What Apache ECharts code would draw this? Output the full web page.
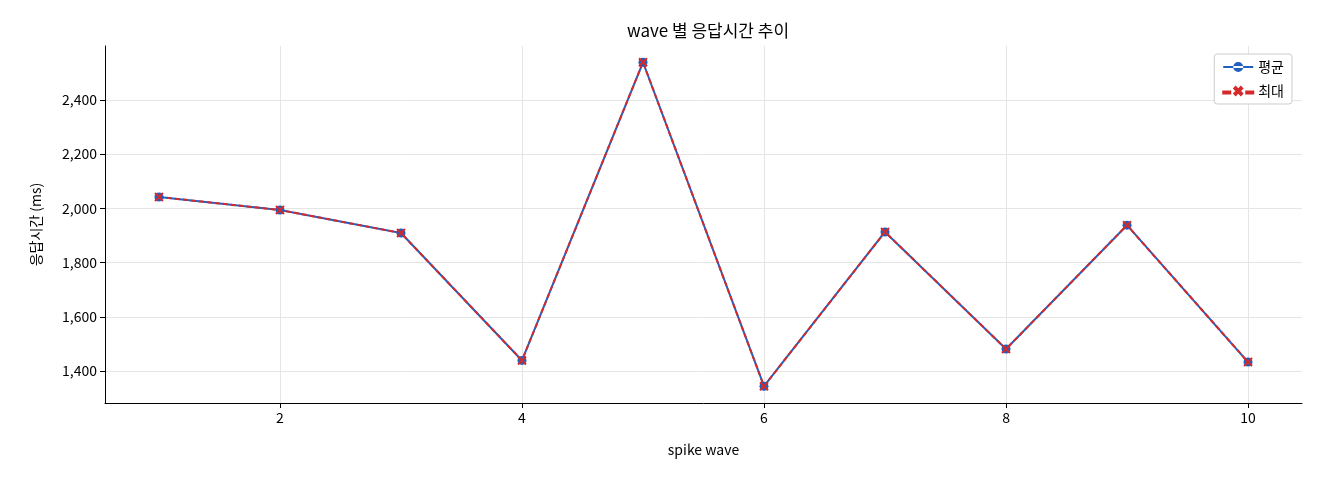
<!DOCTYPE html>
<html><head><meta charset="utf-8">
<script src="https://cdn.jsdelivr.net/npm/echarts@6/dist/echarts.min.js"></script>
<style>html,body{margin:0;padding:0;background:#fff}#c{width:1320px;height:480px}</style>
</head><body><div id="c"></div>
<script>
const waves = [1,2,3,4,5,6,7,8,9,10];
const avgVals = [2042,1994,1909,1439,2539,1344,1913,1481,1938,1433];
const maxVals = [2042,1994,1909,1439,2539,1344,1913,1481,1938,1433];
const yTicks = [1400,1600,1800,2000,2200,2400];
const xTicks = [2,4,6,8,10];
const F = '"Noto Sans CJK KR", "DejaVu Sans", sans-serif';
const chart = echarts.init(document.getElementById('c'));
chart.setOption({
  animation:false,
  textStyle:{fontFamily:F},
  title:{text:'wave 별 응답시간 추이',left:703,top:17,textAlign:'center',textStyle:{fontSize:17,fontWeight:'normal',color:'#000',fontFamily:F}},
  grid:{left:105,right:18,top:46,bottom:77},
  legend:{right:28,top:54,orient:'vertical',itemGap:10,backgroundColor:'#fff',borderColor:'#ccc',borderWidth:1,borderRadius:3,padding:[6,8],itemWidth:30,itemHeight:10,textStyle:{fontSize:14,color:'#000'},
    data:[{name:'평균',icon:'path://M0,4h30v2h-30z M15,0a5,5 0 1,0 0.01,0z'},
          {name:'최대',icon:'path://M0,4h7v2h-7z M23,4h7v2h-7z M11,1l1.4,-1.4l2.6,2.6l2.6,-2.6l1.4,1.4l-2.6,2.6l2.6,2.6l-1.4,1.4l-2.6,-2.6l-2.6,2.6l-1.4,-1.4l2.6,-2.6z'}]},
  xAxis:{type:'value',min:0.554,max:10.446,name:'spike wave',nameLocation:'middle',nameGap:40,nameTextStyle:{fontSize:14,color:'#000'},
    axisLine:{onZero:false,lineStyle:{color:'#000'}},axisTick:{show:true,length:5,customValues:xTicks,lineStyle:{color:'#000'}},
    axisLabel:{fontSize:14,color:'#000',customValues:xTicks},
    splitLine:{show:true,lineStyle:{color:'#e5e5e5'}}},
  yAxis:{type:'value',min:1282,max:2599,name:'응답시간 (ms)',nameLocation:'middle',nameGap:62,nameTextStyle:{fontSize:14,color:'#000'},
    axisLine:{show:true,lineStyle:{color:'#000'}},axisTick:{show:true,length:5,customValues:yTicks,lineStyle:{color:'#000'}},
    axisLabel:{fontSize:14,color:'#000',customValues:yTicks},
    splitLine:{show:true,lineStyle:{color:'#e5e5e5'}}},
  series:[
    {name:'평균',type:'line',data:waves.map((w,i)=>[w,avgVals[i]]),color:'#1f60c0',symbol:'circle',symbolSize:9,lineStyle:{width:2,color:'#1f60c0'},itemStyle:{color:'#1f60c0'}},
    {name:'최대',type:'line',data:waves.map((w,i)=>[w,maxVals[i]]),color:'#d62a2a',symbol:'path://M0,0L10,10M10,0L0,10',symbolSize:8,lineStyle:{width:2,type:[5,3],color:'#d62a2a'},itemStyle:{color:'#d62a2a',borderColor:'#d62a2a',borderWidth:2}}
  ]
});
</script></body></html>
